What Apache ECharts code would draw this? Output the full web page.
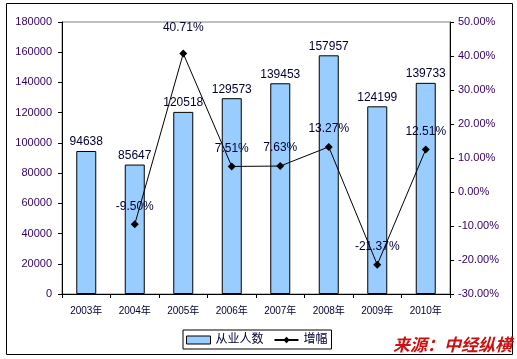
<!DOCTYPE html>
<html><head><meta charset="utf-8">
<script src="https://cdn.jsdelivr.net/npm/echarts@6/dist/echarts.min.js"></script>
<style>html,body{margin:0;padding:0;background:#fff;}#c{width:517px;height:359px;}</style>
</head><body><div id="c"></div>
<script>
const categories = ['2003年','2004年','2005年','2006年','2007年','2008年','2009年','2010年'];
const employees = [94638, 85647, 120518, 129573, 139453, 157957, 124199, 139733];
const growth = [null, -9.50, 40.71, 7.51, 7.63, 13.27, -21.37, 12.51];
const leftTicks = {min: 0, max: 180000, interval: 20000};
const rightTicks = {min: -30, max: 50, interval: 10};

const font = 'Arial, "Liberation Sans", "Noto Sans CJK SC", sans-serif';
const chart = echarts.init(document.getElementById('c'), null, {renderer: 'canvas'});
chart.setOption({
  animation: false,
  backgroundColor: '#fff',
  textStyle: {fontFamily: font},
  grid: {left: 62, right: 67, top: 22, bottom: 65, show: true, borderColor: '#808080', borderWidth: 1, backgroundColor: 'transparent'},
  legend: {
    left: 183, top: 330, orient: 'horizontal',
    borderColor: '#000', borderWidth: 1, padding: [4, 4, 3, 3], itemGap: 10,
    itemWidth: 24, itemHeight: 8,
    textStyle: {fontFamily: font, fontSize: 12, color: '#000033'},
    data: [
      {name: '从业人数', icon: 'rect', itemStyle: {color: '#99CCFF', borderColor: '#000', borderWidth: 1}},
      {name: '增幅'}
    ]
  },
  xAxis: {
    type: 'category', data: categories,
    axisLine: {lineStyle: {color: '#000', width: 1}},
    axisTick: {show: true, inside: false, length: 4, alignWithLabel: false, lineStyle: {color: '#000'}},
    axisLabel: {fontSize: 10, color: '#000033', margin: 12, fontFamily: font}
  },
  yAxis: [
    {type: 'value', min: leftTicks.min, max: leftTicks.max, interval: leftTicks.interval,
     axisLine: {show: true, lineStyle: {color: '#000'}},
     axisTick: {show: true, length: 4, lineStyle: {color: '#000'}},
     splitLine: {show: false},
     axisLabel: {fontSize: 11, color: '#330066', margin: 10, fontFamily: font, formatter: v => String(v)}},
    {type: 'value', min: rightTicks.min, max: rightTicks.max, interval: rightTicks.interval,
     position: 'right',
     axisLine: {show: true, lineStyle: {color: '#000'}},
     axisTick: {show: true, length: 4, lineStyle: {color: '#000'}},
     splitLine: {show: false},
     axisLabel: {fontSize: 11, color: '#330066', margin: 8, fontFamily: font,
       formatter: v => v.toFixed(2) + '%'}}
  ],
  series: [
    {name: '从业人数', type: 'bar', data: employees, barWidth: 20, yAxisIndex: 0,
     itemStyle: {color: '#99CCFF', borderColor: '#000', borderWidth: 1},
     label: {show: true, position: 'top', distance: 3, fontSize: 12, color: '#000033', fontFamily: font}},
    {name: '增幅', type: 'line', yAxisIndex: 1,
     data: growth.map((v, i) => v === null ? null : (i === 2 ? {value: v, label: {distance: 16}} : v)),
     symbol: 'diamond', symbolSize: 8, connectNulls: false,
     lineStyle: {color: '#000', width: 1}, itemStyle: {color: '#000'},
     label: {show: true, position: 'top', distance: 8, fontSize: 12, color: '#000033', fontFamily: font,
       formatter: p => p.value.toFixed(2) + '%'}}
  ],
  graphic: [
    {type: 'rect', shape: {x: 6.5, y: 3.5, width: 506, height: 351}, style: {fill: 'none', stroke: '#000', lineWidth: 1}, silent: true, z: -1},
    {type: 'text', left: 393, top: 336, style: {text: '来源：中经纵横', fill: '#CC1111', font: 'italic bold 17px "Noto Sans CJK SC", sans-serif'}}
  ]
});
</script></body></html>
